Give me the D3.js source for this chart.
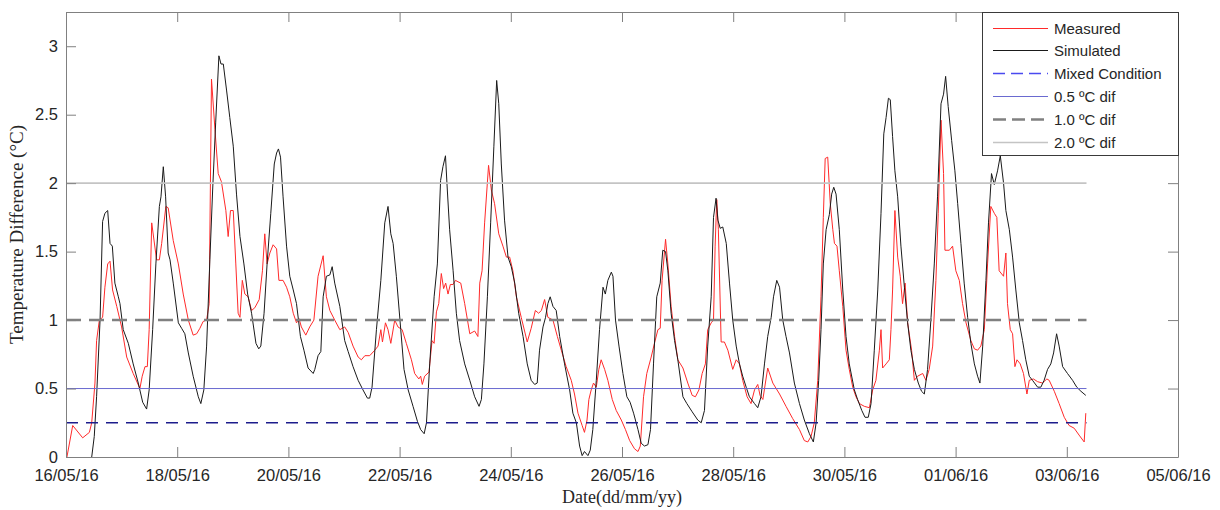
<!DOCTYPE html>
<html>
<head>
<meta charset="utf-8">
<script src="https://cdn.jsdelivr.net/npm/d3@7"></script>
<style>
  html, body { margin: 0; padding: 0; background: #ffffff; }
  svg { display: block; }
</style>
</head>
<body>
<svg id="chart" width="1220" height="510"></svg>
<script>
// ---------- DATA ----------
const startLabel = "16/05/16";
const endLabel = "05/06/16";
const xTickLabels = ["16/05/16", "18/05/16", "20/05/16", "22/05/16", "24/05/16", "26/05/16",
                     "28/05/16", "30/05/16", "01/06/16", "03/06/16", "05/06/16"];
const yTickValues = [0, 0.5, 1, 1.5, 2, 2.5, 3];
const yDomain = [0, 3.25];

// [hours after 16/05/16 00:00, temperature difference °C]
const measured = [[0.4,0.0],[2.9,0.23],[7.2,0.14],[10.1,0.18],[11.1,0.25],[12.5,0.54],[13.2,0.85],[14.4,1.0],[15.8,1.02],[16.8,1.24],[18.0,1.41],[19.0,1.43],[20.1,1.22],[21.9,1.10],[24.0,0.95],[26.2,0.73],[29.0,0.61],[31.9,0.50],[32.9,0.59],[34.1,0.66],[35.1,0.66],[35.9,0.93],[37.0,1.71],[39.1,1.44],[40.3,1.44],[41.3,1.56],[43.1,1.83],[44.1,1.82],[46.3,1.58],[48.5,1.41],[50.6,1.19],[52.8,1.0],[54.9,0.89],[56.4,0.90],[57.8,0.94],[59.2,0.99],[60.7,1.0],[61.8,1.12],[62.8,2.76],[64.3,2.39],[65.7,2.07],[67.1,2.01],[69.0,1.80],[70.0,1.61],[71.0,1.80],[72.2,1.80],[73.3,1.41],[74.3,1.05],[75.1,1.02],[76.1,1.29],[77.2,1.19],[78.6,1.17],[80.1,1.07],[81.5,1.09],[83.4,1.15],[84.8,1.36],[85.8,1.63],[86.8,1.41],[88.0,1.49],[89.4,1.55],[90.9,1.52],[91.9,1.29],[93.7,1.29],[95.2,1.24],[96.6,1.17],[98.1,1.05],[99.5,0.98],[100.6,1.01],[101.6,0.95],[103.5,0.89],[105.2,0.95],[107.0,1.0],[108.8,1.32],[111.0,1.47],[112.4,1.17],[113.9,1.07],[116.0,1.0],[118.2,0.93],[120.3,0.95],[121.8,0.91],[123.9,0.81],[126.1,0.73],[127.5,0.71],[129.0,0.74],[131.1,0.74],[133.3,0.78],[134.7,0.81],[135.9,0.93],[136.6,0.84],[137.9,0.98],[139.0,0.93],[140.2,0.83],[141.9,1.0],[143.3,0.95],[145.1,0.93],[146.9,0.83],[149.1,0.71],[150.5,0.61],[152.3,0.57],[153.1,0.59],[153.8,0.53],[154.8,0.59],[156.7,0.62],[158.0,0.85],[158.9,0.83],[159.9,1.06],[160.9,1.12],[162.0,1.34],[163.0,1.23],[163.9,1.27],[164.9,1.19],[165.9,1.26],[167.1,1.26],[168.1,1.29],[169.2,1.28],[170.4,1.27],[172.1,1.12],[174.3,0.90],[176.4,0.92],[177.8,0.88],[178.6,1.27],[179.6,1.36],[180.7,1.71],[182.4,2.13],[183.6,1.95],[185.0,1.85],[186.8,1.63],[188.6,1.54],[190.1,1.46],[191.5,1.46],[192.9,1.36],[194.4,1.17],[196.5,1.02],[199.1,0.84],[200.8,0.94],[202.6,1.07],[204.0,1.05],[205.2,1.07],[206.6,1.15],[208.0,1.02],[210.2,1.0],[212.1,0.88],[213.8,0.78],[215.9,0.66],[218.1,0.56],[219.5,0.46],[221.0,0.32],[222.8,0.23],[223.8,0.18],[224.9,0.27],[225.7,0.42],[226.7,0.49],[227.7,0.54],[228.9,0.51],[230.0,0.64],[231.0,0.71],[232.5,0.64],[233.9,0.56],[235.8,0.42],[237.5,0.34],[239.7,0.27],[241.5,0.20],[243.3,0.12],[245.4,0.06],[246.9,0.04],[247.9,0.08],[249.3,0.44],[250.7,0.61],[252.6,0.73],[254.0,0.83],[255.5,0.93],[256.5,0.94],[257.3,1.29],[258.8,1.59],[259.8,1.41],[261.2,1.10],[262.7,0.88],[264.1,0.71],[266.3,0.65],[268.4,0.54],[270.3,0.45],[271.7,0.44],[273.2,0.49],[274.6,0.61],[276.0,0.68],[277.0,0.93],[278.5,0.98],[279.5,1.0],[280.2,1.54],[280.9,1.88],[281.6,1.66],[282.8,0.84],[284.2,0.84],[285.7,0.78],[287.8,0.64],[289.3,0.71],[290.7,0.68],[292.1,0.56],[294.0,0.44],[295.7,0.39],[297.2,0.49],[298.6,0.53],[299.6,0.45],[300.8,0.42],[302.9,0.65],[305.1,0.54],[308.0,0.46],[310.8,0.37],[313.7,0.28],[316.6,0.20],[318.7,0.12],[320.2,0.11],[321.6,0.15],[323.0,0.25],[324.5,0.56],[325.9,1.17],[326.9,1.75],[327.7,2.18],[328.8,2.19],[329.9,1.85],[331.0,1.66],[331.7,1.56],[332.8,1.54],[333.8,1.36],[335.3,1.10],[336.7,0.78],[338.1,0.64],[339.6,0.51],[341.0,0.44],[342.5,0.39],[344.6,0.37],[346.8,0.36],[348.2,0.49],[349.6,0.56],[351.1,0.78],[351.8,0.93],[352.5,0.65],[354.0,0.68],[355.4,0.71],[356.1,0.93],[356.8,1.22],[357.8,1.80],[359.0,1.46],[360.1,1.32],[361.1,1.12],[362.2,1.27],[363.3,0.98],[365.0,0.78],[366.2,0.56],[367.6,0.59],[369.8,0.61],[371.2,0.56],[372.6,0.64],[374.1,0.81],[375.5,1.29],[376.5,1.78],[377.7,2.46],[378.8,2.07],[379.4,1.51],[381.3,1.51],[382.7,1.54],[384.1,1.36],[385.6,1.29],[387.0,1.12],[388.5,0.98],[390.6,0.85],[392.1,0.79],[393.5,0.78],[394.9,0.81],[396.4,0.93],[397.8,1.41],[399.2,1.83],[400.7,1.78],[401.8,1.75],[402.8,1.36],[404.7,1.32],[405.7,1.49],[406.4,1.12],[407.6,0.93],[408.6,0.90],[409.6,0.66],[410.5,0.71],[411.9,0.68],[413.3,0.61],[414.8,0.46],[415.8,0.56],[417.6,0.57],[419.4,0.55],[421.5,0.54],[423.4,0.57],[424.4,0.56],[426.6,0.48],[428.7,0.39],[430.9,0.29],[433.0,0.23],[435.2,0.21],[437.3,0.16],[439.5,0.11],[440.2,0.32]];

const simulated = [[11.1,0.0],[12.2,0.15],[13.2,0.44],[14.7,1.0],[15.8,1.72],[16.8,1.78],[18.0,1.80],[19.0,1.56],[20.0,1.54],[21.1,1.27],[22.6,1.17],[23.3,1.12],[24.7,0.93],[26.9,0.83],[29.0,0.68],[31.2,0.54],[33.1,0.40],[34.8,0.35],[35.9,0.49],[37.4,0.93],[38.8,1.41],[40.3,1.83],[41.0,1.90],[42.0,2.12],[43.0,1.90],[44.1,1.49],[44.9,1.44],[46.3,1.27],[48.5,0.98],[49.9,0.94],[51.3,0.90],[52.8,0.76],[54.9,0.59],[57.1,0.44],[58.2,0.39],[59.5,0.49],[60.7,0.81],[62.1,1.44],[63.3,1.95],[64.6,2.44],[66.0,2.93],[66.9,2.87],[67.9,2.87],[69.3,2.68],[70.7,2.48],[72.2,2.27],[73.6,1.92],[75.1,1.61],[76.8,1.41],[78.4,1.19],[80.1,1.05],[82.0,0.83],[83.2,0.79],[84.1,0.81],[85.5,1.05],[86.8,1.41],[88.4,1.78],[89.9,2.14],[90.9,2.22],[91.7,2.25],[92.6,2.19],[93.7,1.90],[95.2,1.54],[96.6,1.32],[98.1,1.22],[99.5,1.12],[101.2,0.88],[102.7,0.78],[104.5,0.65],[106.7,0.61],[107.4,0.64],[108.8,0.74],[110.0,0.77],[111.0,1.17],[112.4,1.32],[113.9,1.33],[114.9,1.39],[116.0,1.27],[118.2,1.10],[120.3,0.85],[121.8,0.77],[123.9,0.66],[126.1,0.56],[128.2,0.49],[130.1,0.43],[131.1,0.43],[132.1,0.51],[134.0,0.93],[135.9,1.29],[137.6,1.71],[139.0,1.83],[140.2,1.63],[141.2,1.56],[142.6,1.32],[144.5,0.93],[145.9,0.64],[147.7,0.49],[149.8,0.37],[151.7,0.26],[153.1,0.20],[154.6,0.17],[155.6,0.25],[157.0,0.68],[158.9,1.17],[160.3,1.41],[161.7,2.02],[162.7,2.12],[163.8,2.20],[164.6,1.95],[165.6,1.66],[167.1,1.36],[168.5,1.05],[169.9,0.85],[172.1,0.68],[174.3,0.56],[176.4,0.44],[178.3,0.37],[179.3,0.42],[180.4,0.68],[181.9,1.17],[183.3,1.71],[184.7,2.27],[185.9,2.75],[186.8,2.58],[187.9,2.14],[189.3,1.73],[190.8,1.46],[192.2,1.39],[193.7,1.27],[195.4,1.05],[197.3,0.88],[199.1,0.68],[200.8,0.56],[202.3,0.53],[203.4,0.54],[204.4,0.78],[205.9,0.95],[207.0,1.02],[208.0,1.12],[209.0,1.17],[210.2,1.10],[211.6,1.07],[213.1,0.88],[215.2,0.68],[217.4,0.49],[218.8,0.32],[220.3,0.25],[221.7,0.08],[222.8,0.01],[223.8,0.04],[225.3,0.01],[226.3,0.05],[227.4,0.20],[228.9,0.56],[230.3,0.93],[231.8,1.24],[232.8,1.19],[233.9,1.29],[235.4,1.35],[236.1,1.32],[237.2,1.0],[238.7,0.81],[240.4,0.61],[242.1,0.44],[243.5,0.40],[245.0,0.32],[246.9,0.20],[248.3,0.10],[249.7,0.08],[251.2,0.09],[252.3,0.20],[253.6,0.68],[255.0,1.17],[256.5,1.27],[257.6,1.51],[258.8,1.50],[259.8,1.36],[261.2,1.05],[262.7,0.85],[264.1,0.71],[266.3,0.44],[268.0,0.39],[270.3,0.33],[272.7,0.27],[274.2,0.25],[275.6,0.34],[277.0,0.81],[278.5,1.17],[279.5,1.75],[280.6,1.89],[281.4,1.73],[282.4,1.67],[283.5,1.68],[285.0,1.56],[286.4,1.27],[287.8,1.0],[289.3,0.81],[290.7,0.68],[292.1,0.59],[293.6,0.51],[295.0,0.44],[297.2,0.39],[298.6,0.36],[300.0,0.44],[301.5,0.68],[302.9,0.88],[304.4,1.02],[305.4,1.17],[306.8,1.29],[308.0,1.24],[309.4,1.0],[310.8,0.88],[312.3,0.76],[314.4,0.54],[316.6,0.39],[318.7,0.27],[320.9,0.17],[322.6,0.11],[323.8,0.25],[324.9,0.56],[325.9,0.93],[326.9,1.41],[328.1,1.66],[329.5,1.77],[330.5,1.92],[331.4,1.97],[332.4,1.92],[333.8,1.66],[335.3,1.22],[336.7,0.88],[338.1,0.68],[340.3,0.49],[341.7,0.42],[343.5,0.34],[344.9,0.29],[346.3,0.29],[347.5,0.39],[348.9,0.78],[350.4,1.22],[351.8,1.78],[353.0,2.36],[354.0,2.48],[355.0,2.62],[355.8,2.61],[356.8,2.34],[357.8,2.09],[359.0,1.90],[360.4,1.54],[361.9,1.24],[363.3,0.98],[364.7,0.78],[366.2,0.64],[367.9,0.54],[369.3,0.48],[370.5,0.46],[371.9,0.64],[373.4,1.02],[374.8,1.41],[376.2,1.90],[377.7,2.58],[378.8,2.65],[379.7,2.78],[380.8,2.56],[382.3,2.31],[383.7,2.09],[384.9,1.85],[386.3,1.56],[387.7,1.27],[389.2,1.02],[390.6,0.83],[392.1,0.68],[393.5,0.59],[394.5,0.54],[395.7,0.81],[397.1,1.29],[398.2,1.71],[399.5,2.07],[400.7,1.99],[402.1,2.09],[403.3,2.20],[404.7,2.00],[405.7,1.80],[407.2,1.66],[408.6,1.46],[410.0,1.22],[411.5,0.98],[412.9,0.85],[414.3,0.71],[415.8,0.59],[417.2,0.56],[419.4,0.51],[420.8,0.51],[422.2,0.56],[423.7,0.64],[425.1,0.68],[426.3,0.76],[427.6,0.90],[428.7,0.81],[430.2,0.66],[432.3,0.61],[434.5,0.56],[436.3,0.51],[438.1,0.48],[440.2,0.45]];

// reference levels, drawn across the measured period
const referenceValues = [0.25, 0.5, 1.0, 2.0];
const referenceSpanHours = [0, 440.5];

const legendLabels = ["Measured", "Simulated", "Mixed Condition", "0.5 \u00baC dif", "1.0 \u00baC dif", "2.0 \u00baC dif"];

// ---------- STYLE ----------
const M = { left: 66, right: 1178, top: 12, bottom: 457 };
const axisColor = "#808080";
const textColor = "#262626";
const styles = [
  { stroke: "#ff2a2a", legend: "#ff2a2a", width: 1, dash: null },          // Measured
  { stroke: "#1a1a1a", legend: "#1a1a1a", width: 1, dash: null },          // Simulated
  { stroke: "#1c1c8c", legend: "#4a4af0", width: 1.3, dash: "12,8" },      // Mixed Condition
  { stroke: "#6a6ad0", legend: "#6a6ad0", width: 1, dash: null },          // 0.5
  { stroke: "#808080", legend: "#808080", width: 2.5, dash: "15,8" },      // 1.0
  { stroke: "#c4c4c4", legend: "#c4c4c4", width: 1.6, dash: null }         // 2.0
];

// ---------- CHART ----------
const parse = d3.timeParse("%d/%m/%y");
const fmt = d3.timeFormat("%d/%m/%y");
const t0 = parse(startLabel);
const toDate = h => new Date(t0.getTime() + h * 3600e3);

const svg = d3.select("#chart");
const x = d3.scaleTime().domain([t0, parse(endLabel)]).range([M.left, M.right]);
const y = d3.scaleLinear().domain(yDomain).range([M.bottom, M.top]);

svg.append("defs").append("clipPath").attr("id", "plotclip")
  .append("rect").attr("x", M.left).attr("y", M.top)
  .attr("width", M.right - M.left).attr("height", M.bottom - M.top);

const plot = svg.append("g").attr("clip-path", "url(#plotclip)");
const line = d3.line().x(d => x(toDate(d[0]))).y(d => y(d[1]));

plot.append("path").datum(measured).attr("d", line)
  .attr("fill", "none").attr("stroke", styles[0].stroke).attr("stroke-width", styles[0].width)
  .attr("stroke-linejoin", "round");
plot.append("path").datum(simulated).attr("d", line)
  .attr("fill", "none").attr("stroke", styles[1].stroke).attr("stroke-width", styles[1].width)
  .attr("stroke-linejoin", "round");

referenceValues.forEach((v, i) => {
  const s = styles[i + 2];
  plot.append("path").datum(referenceSpanHours.map(h => [h, v])).attr("d", line)
    .attr("fill", "none").attr("stroke", s.stroke).attr("stroke-width", s.width)
    .attr("stroke-dasharray", s.dash);
});

// axes
const tickDates = xTickLabels.map(parse);
function styleAxis(g, showLabels) {
  g.select(".domain").attr("stroke", axisColor).attr("stroke-width", 1);
  g.selectAll(".tick line").attr("stroke", axisColor).attr("stroke-width", 1);
  g.selectAll(".tick text").attr("fill", textColor)
    .style("font-family", "'Liberation Sans', Arial, sans-serif").style("font-size", "16.5px");
  if (!showLabels) g.selectAll(".tick text").remove();
}
svg.append("g").attr("transform", `translate(0,${M.bottom})`)
  .call(d3.axisBottom(x).tickValues(tickDates).tickFormat(fmt).tickSizeInner(-10).tickSizeOuter(0).tickPadding(12))
  .call(g => styleAxis(g, true));
svg.append("g").attr("transform", `translate(0,${M.top})`)
  .call(d3.axisTop(x).tickValues(tickDates).tickSizeInner(-10).tickSizeOuter(0))
  .call(g => styleAxis(g, false));
svg.append("g").attr("transform", `translate(${M.left},0)`)
  .call(d3.axisLeft(y).tickValues(yTickValues).tickFormat(d => String(d)).tickSizeInner(-10).tickSizeOuter(0).tickPadding(8))
  .call(g => styleAxis(g, true));
svg.append("g").attr("transform", `translate(${M.right},0)`)
  .call(d3.axisRight(y).tickValues(yTickValues).tickSizeInner(-10).tickSizeOuter(0))
  .call(g => styleAxis(g, false));

// axis titles
svg.append("text")
  .attr("transform", `translate(23,${(M.top + M.bottom) / 2}) rotate(-90)`)
  .attr("text-anchor", "middle")
  .attr("fill", textColor)
  .style("font-family", "'Liberation Serif', 'Times New Roman', serif").style("font-size", "19px")
  .text("Temperature Difference (\u00b0C)");
svg.append("text")
  .attr("x", (M.left + M.right) / 2).attr("y", 503)
  .attr("text-anchor", "middle")
  .attr("fill", textColor)
  .style("font-family", "'Liberation Serif', 'Times New Roman', serif").style("font-size", "18px")
  .text("Date(dd/mm/yy)");

// legend
const L = { x: 982, y: 12, w: 196, h: 143, row0: 27.5, step: 22.8, lx0: 993, lx1: 1048, tx: 1054 };
const leg = svg.append("g");
leg.append("rect").attr("x", L.x + 0.5).attr("y", L.y + 0.5).attr("width", L.w).attr("height", L.h)
  .attr("fill", "#ffffff").attr("stroke", "#3a3a3a").attr("stroke-width", 1);
legendLabels.forEach((name, i) => {
  const s = styles[i];
  const cy = Math.round(L.row0 + i * L.step) + 0.5;
  leg.append("line").attr("x1", L.lx0).attr("x2", L.lx1).attr("y1", cy).attr("y2", cy)
    .attr("stroke", s.legend).attr("stroke-width", s.width)
    .attr("stroke-dasharray", s.dash ? (i === 2 ? "12,6" : "13,6") : null);
  leg.append("text").attr("x", L.tx).attr("y", cy).attr("dy", "0.35em")
    .attr("fill", textColor)
    .style("font-family", "'Liberation Sans', Arial, sans-serif").style("font-size", "15px")
    .text(name);
});
</script>
</body>
</html>
